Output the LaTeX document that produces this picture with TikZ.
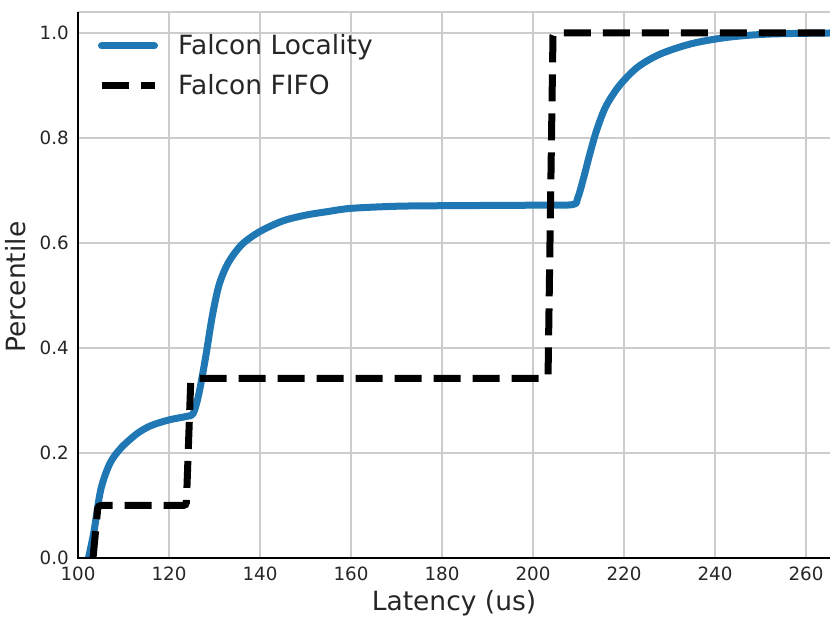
\documentclass[tikz,border=0pt]{standalone}
\usepackage{fontspec}
\setmainfont{DejaVu Sans}
\usetikzlibrary{positioning}

\definecolor{locblue}{HTML}{1F77B4}
\definecolor{labgray}{HTML}{262626}
\definecolor{gridgray}{HTML}{CCCCCC}

\tikzset{
  gridline/.style={draw=gridgray, line width=1.2pt},
  spine/.style={draw=black, line width=1.6pt},
  ticklabel/.style={text=labgray, font=\fontsize{18.3}{22}\selectfont, inner sep=0pt},
  axislabel/.style={text=labgray, font=\fontsize{26.5}{32}\selectfont, inner sep=0pt},
  locality/.style={draw=locblue, line width=7pt, line cap=round, line join=round},
  fifo/.style={draw=black, line width=7pt, dash pattern=on 27pt off 12pt},
}

\begin{document}
\begin{tikzpicture}[x=1pt, y=1pt]
  \useasboundingbox (0,0) rectangle (830,616);

  % data axes: latency on x, percentile on y
  \begin{scope}[x=4.55pt, y=525pt, shift={(-377pt,58pt)}]
    \foreach \t in {120,140,...,260}
      \draw [gridline] (\t,0) -- (\t,1.04);
    \foreach \p in {0.2,0.4,0.6,0.8,1.0}
      \draw [gridline] (100,\p) -- (265.27,\p);
    \draw [gridline] (100,1.04) -- (265.27,1.04);

    \begin{scope}
      \clip (100,0) rectangle (265.27,1.04);
      \draw [locality] plot [smooth, tension=0.5] coordinates {
        (102.3,0) (103.5,0.05) (105,0.13) (107,0.18) (109.5,0.21)
        (113,0.237) (116,0.252) (120,0.263) (124,0.27) (125.3,0.275)
        (126.5,0.31) (128,0.38) (129.5,0.46) (131,0.52) (133,0.562)
        (136,0.597) (140,0.622) (145,0.642) (150,0.653) (155,0.66)
        (160,0.666) (170,0.670) (180,0.671) (200,0.672) (208.6,0.673)
        (209.8,0.685) (211,0.72) (212.5,0.77) (214,0.815) (216,0.86)
        (219,0.9) (223,0.935) (228,0.96) (235,0.98) (243,0.992)
        (252,0.998) (265.27,1.0)};
      \draw [fifo, rounded corners=3pt] (103.3,0) -- (104.4,0.1)
        -- (123.8,0.1) -- (124.8,0.342)
        -- (203.3,0.342) -- (204.4,1.0)
        -- (265.27,1.0);
    \end{scope}

    \draw [spine] (100,1.04) -- (100,0) -- (265.27,0);

    \foreach \t in {100,120,...,260}
      \node [ticklabel, anchor=base] (xt\t) at ([yshift=-22pt]\t,0) {\t};
    \foreach \p/\n in {0.0/0,0.2/2,0.4/4,0.6/6,0.8/8,1.0/10}
      \node [ticklabel, anchor=base east] (yt\n) at ([xshift=-9pt, yshift=-6.5pt]100,\p) {\p};
  \end{scope}

  \node [axislabel, anchor=base] (xlab) at (454,6) {Latency (us)};
  \node [axislabel, anchor=base, rotate=90] (ylab) at (25,329) {Percentile};

  % legend
  \coordinate (locA) at (101.5,570);
  \coordinate (locB) at (154.5,570);
  \coordinate (fifoA) at (102,530);
  \coordinate (fifoB) at (155,530);
  \draw [locality] (locA) -- (locB);
  \draw [fifo] (fifoA) -- (fifoB);
  \node [axislabel, anchor=base west] (loclab) at (178,561) {Falcon Locality};
  \node [axislabel, anchor=base west] (fifolab) at (178,521) {Falcon FIFO};
\end{tikzpicture}
\end{document}
